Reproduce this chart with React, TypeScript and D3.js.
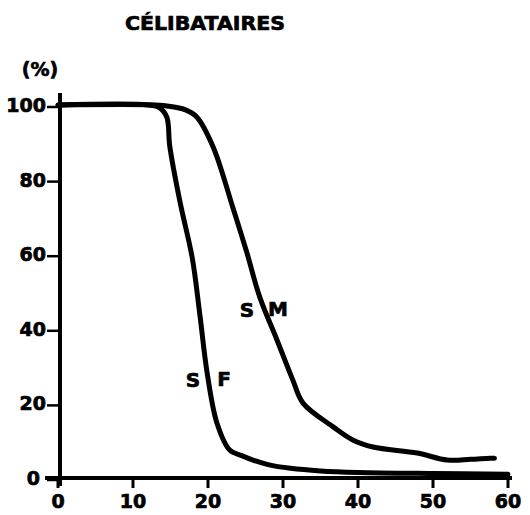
import React from "react";
import * as d3 from "d3";

const xTicks = [0, 10, 20, 30, 40, 50, 60];
const yTicks = [0, 20, 40, 60, 80, 100];

const sfAges = [0, 12, 13.5, 14.5, 14.9, 16.3, 17.9, 18.9, 19.9, 21.2, 22.9, 24.5, 26, 28, 31, 35, 40, 50, 60];
const sfValues = [100, 100, 99.3, 96.8, 89, 73.7, 59, 44, 28, 14.7, 7.5, 6, 4.8, 3.6, 2.6, 1.9, 1.5, 1.2, 1.0];

const smAges = [0, 13, 15, 17, 18.5, 20.7, 23.3, 25.2, 26.9, 29.2, 31.3, 32.7, 36.7, 39.3, 42, 47.9, 51.9, 55, 57.6, 58.2];
const smValues = [100, 100, 99.6, 98.7, 96.8, 88.7, 72.6, 60.3, 48.5, 37, 26.3, 20, 13.7, 10.2, 8.3, 6.7, 4.8, 5, 5.3, 5.3];

const title = "CÉLIBATAIRES";
const unitLabel = "(%)";

export default function App() {
  const x = d3.scaleLinear().domain([0, 60]).range([58, 508]);
  const y = d3.scaleLinear().domain([0, 100]).range([478, 105]);
  const line = d3
    .line<[number, number]>()
    .x((d) => x(d[0]))
    .y((d) => y(d[1]))
    .curve(d3.curveCatmullRom.alpha(0.5));
  const sf: [number, number][] = sfAges.map((a, i) => [a, sfValues[i]]);
  const sm: [number, number][] = smAges.map((a, i) => [a, smValues[i]]);
  const font = "'DejaVu Sans', sans-serif";
  const ink = { stroke: "#000", strokeWidth: 0.7 };
  return (
    <svg width={530} height={515} style={{ position: "absolute", left: 0, top: 0, background: "#fff" }}>
      <text x={205} y={30} textAnchor="middle" fontFamily={font} fontWeight="bold" fontSize={20} textLength={160} lengthAdjust="spacingAndGlyphs" {...ink}>
        {title}
      </text>
      <text x={40} y={76} textAnchor="middle" fontFamily={font} fontWeight="bold" fontSize={19} {...ink}>
        {unitLabel}
      </text>
      <line x1={60} y1={93} x2={60} y2={486} stroke="#000" strokeWidth={4} />
      <line x1={45} y1={478} x2={512} y2={478} stroke="#000" strokeWidth={4} />
      {yTicks.map((t) => (
        <g key={"y" + t}>
          <line x1={47} x2={60} y1={y(t) + 2} y2={y(t) + 2} stroke="#000" strokeWidth={2.5} />
          <text x={t === 0 ? 40 : 46} y={y(t) + 7} textAnchor="end" fontFamily={font} fontWeight="bold" fontSize={19} {...ink}>
            {t}
          </text>
        </g>
      ))}
      {xTicks.map((t) => (
        <g key={"x" + t}>
          <line x1={x(t)} x2={x(t)} y1={478} y2={488} stroke="#000" strokeWidth={3} />
          <text x={x(t)} y={508} textAnchor="middle" fontFamily={font} fontWeight="bold" fontSize={19} {...ink}>
            {t}
          </text>
        </g>
      ))}
      <path d={line(sf) || ""} fill="none" stroke="#000" strokeWidth={5} strokeLinejoin="round" strokeLinecap="round" />
      <path d={line(sm) || ""} fill="none" stroke="#000" strokeWidth={5} strokeLinejoin="round" strokeLinecap="round" />
      <text x={247} y={317} textAnchor="middle" fontFamily={font} fontWeight="bold" fontSize={20} {...ink}>S</text>
      <text x={278} y={316} textAnchor="middle" fontFamily={font} fontWeight="bold" fontSize={20} {...ink}>M</text>
      <text x={193} y={387} textAnchor="middle" fontFamily={font} fontWeight="bold" fontSize={20} {...ink}>S</text>
      <text x={224} y={386} textAnchor="middle" fontFamily={font} fontWeight="bold" fontSize={20} {...ink}>F</text>
    </svg>
  );
}
